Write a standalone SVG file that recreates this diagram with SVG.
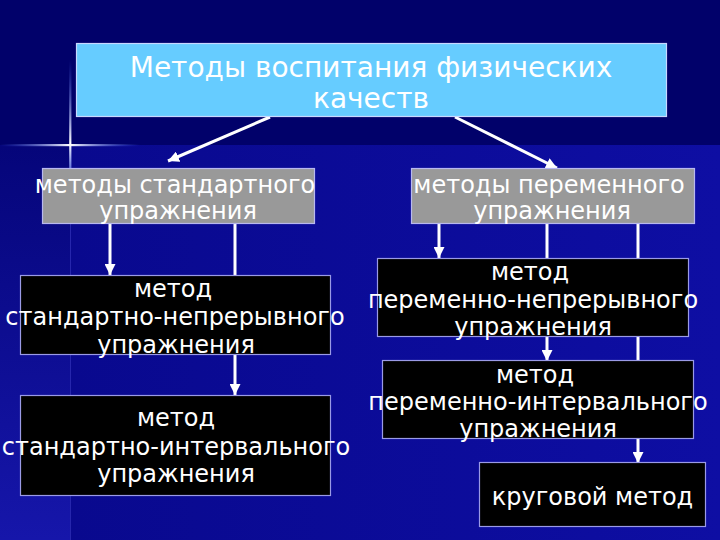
<svg xmlns="http://www.w3.org/2000/svg" width="720" height="540" viewBox="0 0 720 540">
<defs>
<style>
.t{font-family:"DejaVu Sans",sans-serif;fill:#ffffff;text-anchor:middle;font-size:24px}
.tt{font-size:28px}
.blk{fill:#000000;stroke:#9a9ae6;stroke-width:1.2}
.gry{fill:#999999;stroke:#b8b8f0;stroke-width:1.2}
.ln{stroke:#ffffff;stroke-width:3;fill:none}
</style>
<linearGradient id="panel" x1="0" y1="0" x2="1" y2="0">
<stop offset="0" stop-color="#09098e"/>
<stop offset="1" stop-color="#0e0ea3"/>
</linearGradient>
<linearGradient id="strip" x1="0" y1="0" x2="0" y2="1">
<stop offset="0" stop-color="#05057a"/>
<stop offset="1" stop-color="#1616aa"/>
</linearGradient>
<linearGradient id="hs" x1="0" y1="0" x2="1" y2="0">
<stop offset="0" stop-color="#4a6cff" stop-opacity="0"/>
<stop offset="0.5" stop-color="#ffffff"/>
<stop offset="1" stop-color="#4a6cff" stop-opacity="0"/>
</linearGradient>
<linearGradient id="vs" x1="0" y1="0" x2="0" y2="1">
<stop offset="0" stop-color="#4a6cff" stop-opacity="0"/>
<stop offset="0.78" stop-color="#ffffff"/>
<stop offset="1" stop-color="#8fa6ff" stop-opacity="0.7"/>
</linearGradient>
<marker id="ah" viewBox="0 0 10 10" refX="10" refY="5" markerWidth="11" markerHeight="11" markerUnits="userSpaceOnUse" orient="auto">
<path d="M0,0 L10,5 L0,10 z" fill="#ffffff"/>
</marker>
</defs>
<g id="background">
<rect x="0" y="0" width="720" height="540" fill="#01016a"/>
<rect x="70" y="145" width="650" height="395" fill="url(#panel)"/>
<rect x="0" y="145" width="70" height="395" fill="url(#strip)"/>
<line x1="70.5" y1="224" x2="70.5" y2="540" stroke="#3a3ac0" stroke-width="1" opacity="0.6"/>
<rect x="0" y="144" width="140" height="2.2" fill="url(#hs)"/>
<rect x="69.2" y="60" width="2.2" height="108" fill="url(#vs)"/>
</g>
<g id="connectors">
<line class="ln" x1="270" y1="117" x2="168" y2="161" marker-end="url(#ah)"/>
<line class="ln" x1="455" y1="117" x2="557" y2="168" marker-end="url(#ah)"/>
<line class="ln" x1="110" y1="224" x2="110" y2="275" marker-end="url(#ah)"/>
<line class="ln" x1="235" y1="224" x2="235" y2="275"/>
<line class="ln" x1="235" y1="355" x2="235" y2="395" marker-end="url(#ah)"/>
<line class="ln" x1="439" y1="224" x2="439" y2="258" marker-end="url(#ah)"/>
<line class="ln" x1="547" y1="224" x2="547" y2="258"/>
<line class="ln" x1="547" y1="337" x2="547" y2="361" marker-end="url(#ah)"/>
<line class="ln" x1="638" y1="224" x2="638" y2="258"/>
<line class="ln" x1="638" y1="337" x2="638" y2="361"/>
<line class="ln" x1="638" y1="439" x2="638" y2="463" marker-end="url(#ah)"/>
</g>
<g id="title">
<rect x="76.5" y="43.5" width="590" height="73" fill="#66ccff" stroke="#c8d8ff" stroke-width="1.2"/>
<text class="t tt" x="371" y="77">Методы воспитания физических</text>
<text class="t tt" x="371" y="108">качеств</text>
</g>
<g id="std">
<rect class="gry" x="42.5" y="168.5" width="272" height="55"/>
<text class="t" x="175" y="193">методы стандартного</text>
<text class="t" x="178" y="219">упражнения</text>
</g>
<g id="var">
<rect class="gry" x="411.5" y="168.5" width="283" height="55"/>
<text class="t" x="549" y="193">методы переменного</text>
<text class="t" x="552" y="219">упражнения</text>
</g>
<g id="std-cont">
<rect class="blk" x="20.5" y="275.5" width="310" height="79"/>
<text class="t" x="173" y="297">метод</text>
<text class="t" x="175" y="325">стандартно-непрерывного</text>
<text class="t" x="176" y="353">упражнения</text>
</g>
<g id="std-int">
<rect class="blk" x="20.5" y="395.5" width="310" height="100"/>
<text class="t" x="176" y="426">метод</text>
<text class="t" x="176" y="455">стандартно-интервального</text>
<text class="t" x="176" y="482">упражнения</text>
</g>
<g id="var-cont">
<rect class="blk" x="377.5" y="258.5" width="311" height="78"/>
<text class="t" x="530" y="280">метод</text>
<text class="t" x="533" y="308">переменно-непрерывного</text>
<text class="t" x="533" y="335">упражнения</text>
</g>
<g id="var-int">
<rect class="blk" x="382.5" y="360.5" width="311" height="78"/>
<text class="t" x="535" y="383">метод</text>
<text class="t" x="538" y="410">переменно-интервального</text>
<text class="t" x="538" y="437">упражнения</text>
</g>
<g id="circuit">
<rect class="blk" x="479.5" y="462.5" width="226" height="64"/>
<text class="t" x="592.5" y="505">круговой метод</text>
</g>
</svg>
